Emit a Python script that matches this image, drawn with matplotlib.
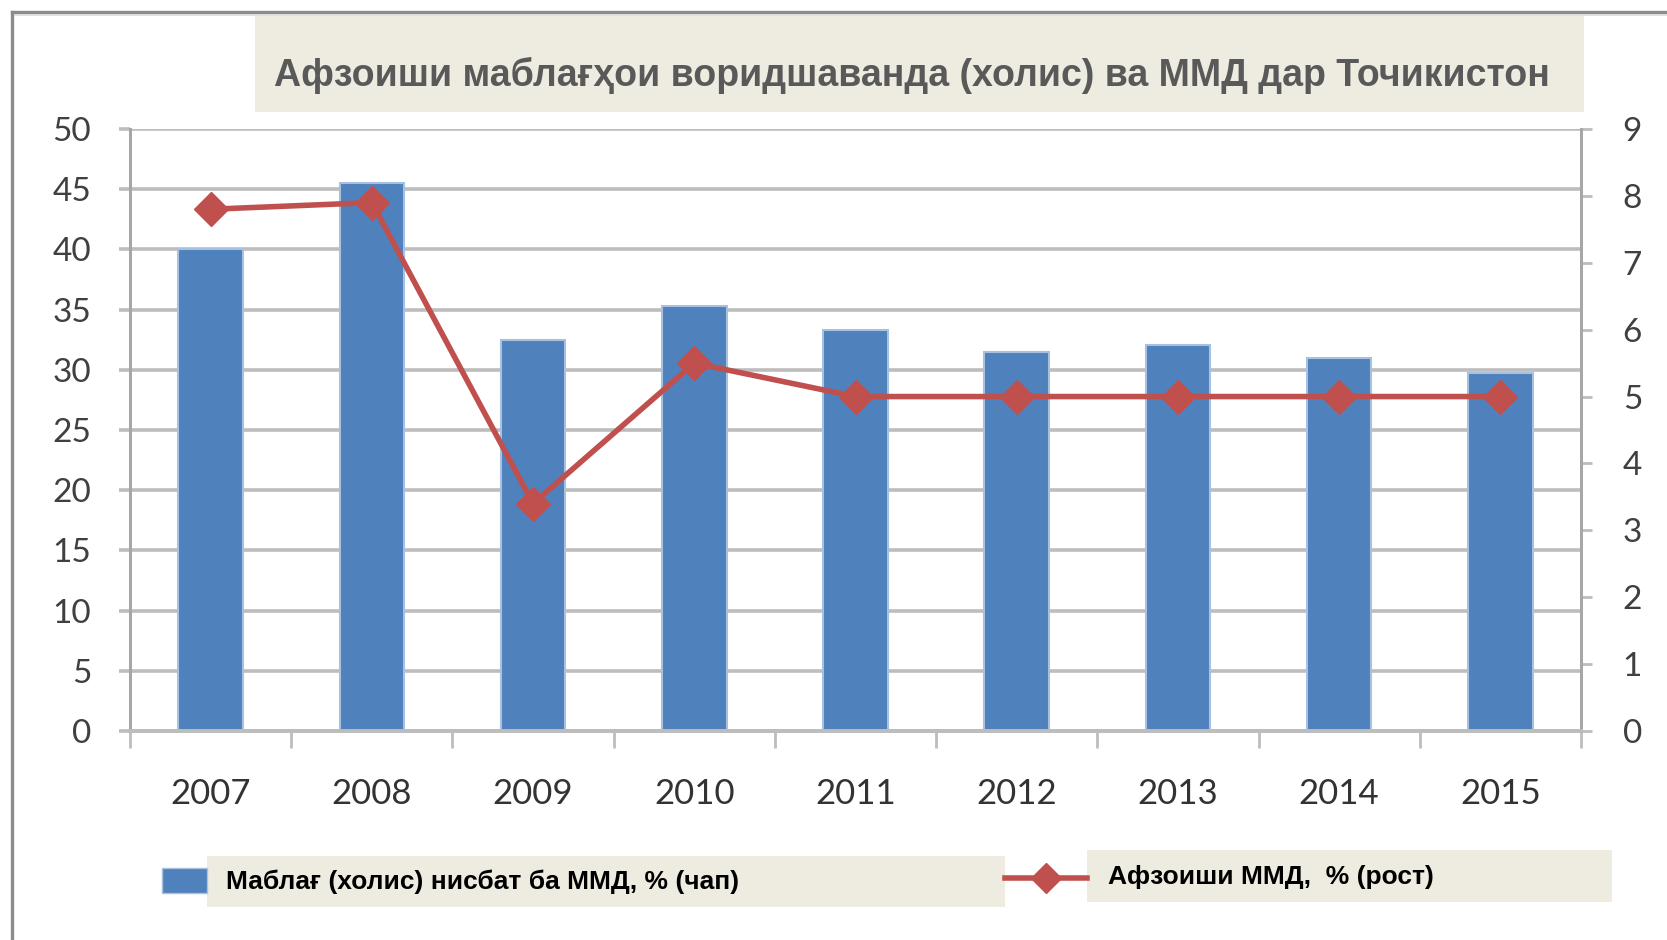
import numpy as np
import matplotlib
matplotlib.use("Agg")
import matplotlib.pyplot as plt
from matplotlib.patches import Rectangle
from matplotlib.lines import Line2D

years = ["2007", "2008", "2009", "2010", "2011", "2012", "2013", "2014", "2015"]
inflow = [40.0, 45.5, 32.5, 35.3, 33.3, 31.5, 32.1, 31.0, 29.7]
gdp_growth = [7.8, 7.9, 3.4, 5.5, 5.0, 5.0, 5.0, 5.0, 5.0]
left_ticks = [0, 5, 10, 15, 20, 25, 30, 35, 40, 45, 50]
right_ticks = [0, 1, 2, 3, 4, 5, 6, 7, 8, 9]

title = "Афзоиши маблағҳои воридшаванда (холис) ва ММД дар Точикистон"
label_bars = "Маблағ (холис) нисбат ба ММД, % (чап)"
label_line = "Афзоиши ММД,  % (рост)"

W, H = 1667, 940
BLUE = "#4F81BD"
RED = "#C0504D"
GRID = "#BDBDBD"
BEIGE = "#EEEBE0"

plt.rcParams["font.family"] = ["Lato", "DejaVu Sans"]

fig = plt.figure(figsize=(W / 100, H / 100), dpi=100)


def fx(px):
    return px / W


def fy(py):
    return 1 - py / H


# plot area (pixels): x 130..1581, y 129..731
ax = fig.add_axes([fx(130), fy(731), fx(1581) - fx(130), fy(129) - fy(731)])
ax2 = ax.twinx()

x = np.arange(len(years))
ax.bar(x, inflow, width=0.40, color=BLUE, edgecolor="#A9C1E0", linewidth=1.5, zorder=3)
ax.set_xlim(-0.5, len(years) - 0.5)
ax.set_ylim(0, 50)
ax.set_yticks(left_ticks)
ax.yaxis.grid(True, color=GRID, linewidth=2.6, zorder=0)
ax.set_axisbelow(True)
ax.tick_params(axis="y", length=8, width=2.6, color=GRID, pad=20,
               labelsize=24, labelcolor="#404040")

ax.set_xticks(np.arange(-0.5, len(years), 1))
ax.set_xticklabels([])
ax.set_xticks(x, minor=True)
ax.set_xticklabels(years, minor=True)
ax.tick_params(axis="x", which="major", length=12, width=2, color=GRID)
ax.tick_params(axis="x", which="minor", length=0, pad=34, labelsize=25, labelcolor="#333333")

ax2.plot(x, gdp_growth, color=RED, linewidth=4, marker="D", markersize=17,
         markerfacecolor=RED, markeredgecolor=RED, zorder=5)
ax2.set_ylim(0, 9)
ax2.set_yticks(right_ticks)
ax2.tick_params(axis="y", length=8, width=2, color=GRID, pad=22,
                labelsize=24, labelcolor="#404040")

for a in (ax, ax2):
    a.spines["top"].set_visible(False)
    a.spines["left"].set_color("#A6A6A6")
    a.spines["left"].set_linewidth(2)
    a.spines["right"].set_color("#A6A6A6")
    a.spines["right"].set_linewidth(2)
    a.spines["bottom"].set_color(GRID)
    a.spines["bottom"].set_linewidth(2.8)

# outer frame (top and left edge)
fig.add_artist(Line2D([fx(12), 1], [fy(12), fy(12)], color="#8C8C8C", linewidth=2.4))
fig.add_artist(Line2D([fx(12), fx(12)], [0, fy(12)], color="#8C8C8C", linewidth=2.4))
fig.add_artist(Line2D([fx(15), 1], [fy(15), fy(15)], color="#DADADA", linewidth=1.2))

# title
fig.add_artist(Rectangle((fx(255), fy(112)), fx(1584) - fx(255), fy(16) - fy(112),
                         transform=fig.transFigure, facecolor=BEIGE, edgecolor="none"))
fig.text(fx(274), fy(75), title, ha="left", va="center", fontsize=27,
         fontweight="bold", color="#595959", family=["Liberation Sans", "DejaVu Sans"])

# legend
fig.add_artist(Rectangle((fx(207), fy(907)), fx(1005) - fx(207), fy(856) - fy(907),
                         transform=fig.transFigure, facecolor=BEIGE, edgecolor="none"))
fig.add_artist(Rectangle((fx(162), fy(893)), fx(207) - fx(162), fy(868) - fy(893),
                         transform=fig.transFigure, facecolor=BLUE, edgecolor="#A9C1E0",
                         linewidth=1))
fig.text(fx(226), fy(882), label_bars, ha="left", va="center", fontsize=19,
         fontweight="bold", color="black", family=["Liberation Sans", "DejaVu Sans"])

fig.add_artist(Rectangle((fx(1087), fy(902)), fx(1612) - fx(1087), fy(850) - fy(902),
                         transform=fig.transFigure, facecolor=BEIGE, edgecolor="none"))
fig.add_artist(Line2D([fx(1005), fx(1087)], [fy(878), fy(878)], color=RED, linewidth=4,
                      transform=fig.transFigure))
fig.add_artist(Line2D([fx(1046)], [fy(878)], color=RED, linestyle="none",
                      marker="D", markersize=15, transform=fig.transFigure))
fig.text(fx(1108), fy(877), label_line, ha="left", va="center", fontsize=19,
         fontweight="bold", color="black", family=["Liberation Sans", "DejaVu Sans"])

fig.savefig("out.png", dpi=100)
